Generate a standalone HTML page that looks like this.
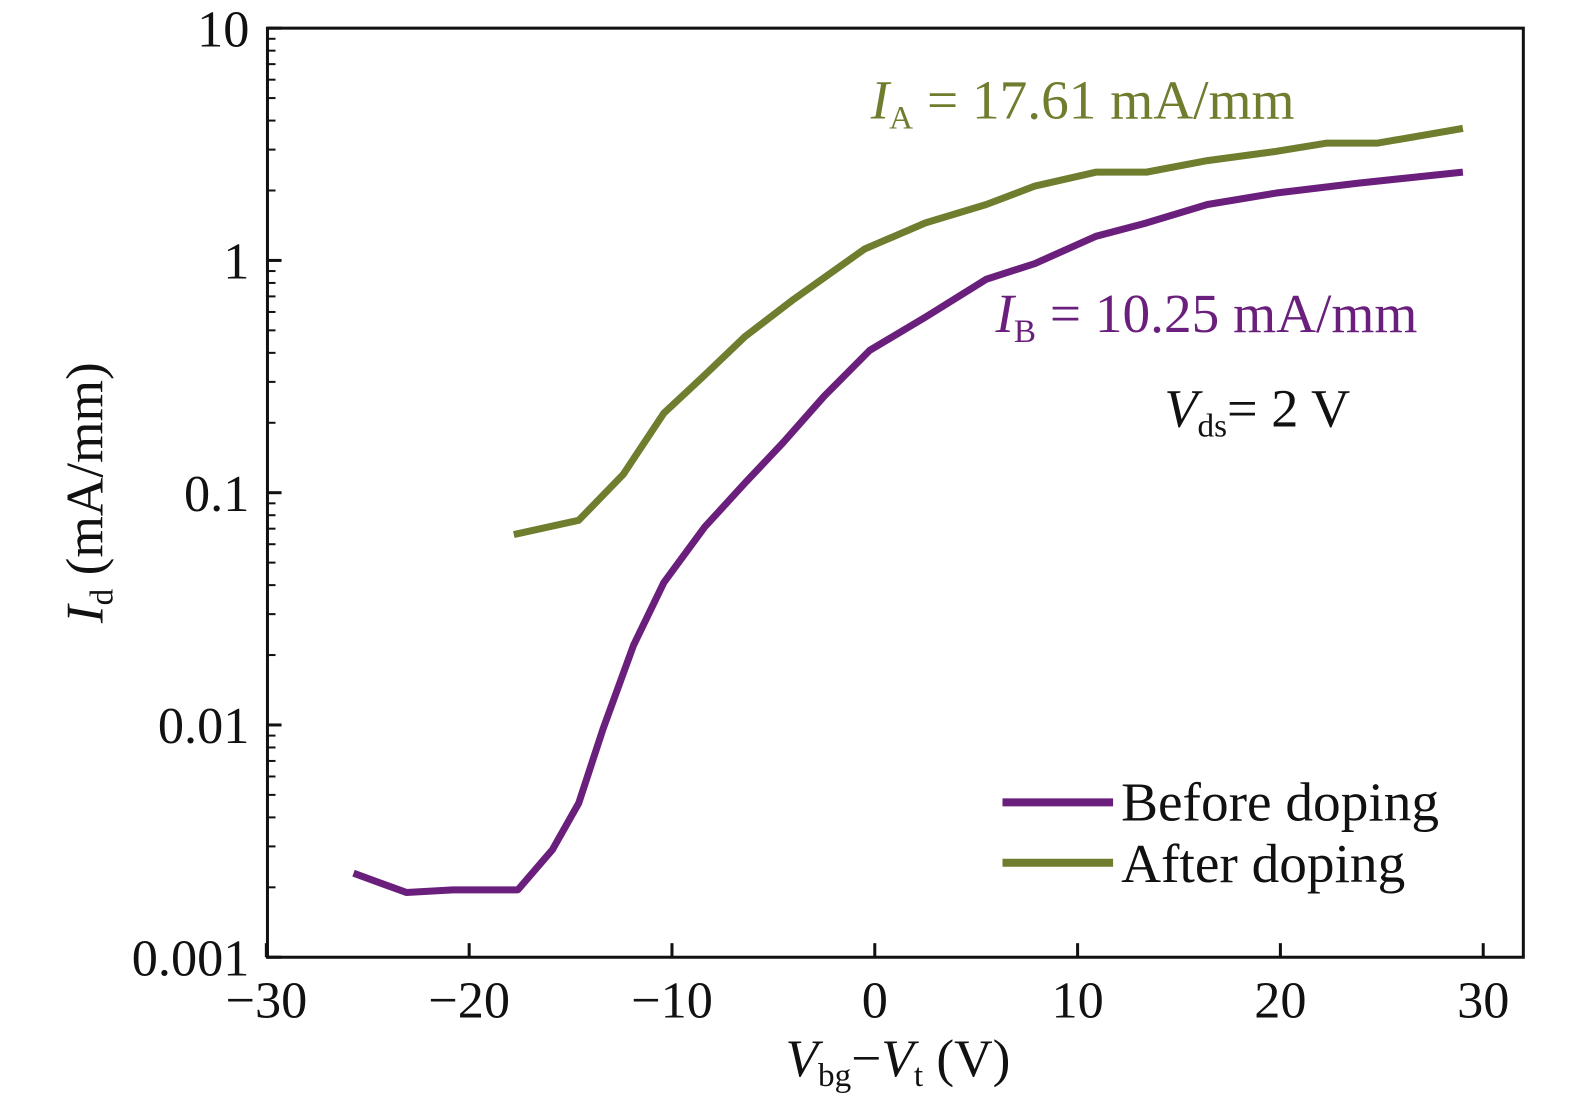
<!DOCTYPE html>
<html><head><meta charset="utf-8"><style>
html,body{margin:0;background:#fff;overflow:hidden;width:1575px;height:1102px}
svg{display:block}
#wrap{position:absolute;left:0;top:0;width:1575px;height:1102px;transform:scale(1.0055);transform-origin:0 0}
text{font-family:"Liberation Serif",serif}
</style></head><body>
<div id="wrap">
<svg id="chart" width="1575" height="1102" xmlns="http://www.w3.org/2000/svg" style="position:absolute;left:0;top:0">
<g id="g"></g>
</svg>
<script>
const xTicks=[-30,-20,-10,0,10,20,30];
const yTicks=[0.001,0.01,0.1,1,10];
const yTickLabels=["0.001","0.01","0.1","1","10"];
const beforeX=[-25.7,-23.1,-20.8,-17.6,-15.9,-14.6,-13.4,-11.9,-10.4,-8.4,-6.4,-4.5,-2.5,-0.25,2.5,5.5,7.9,10.9,13.4,16.4,19.8,23.8,29];
const beforeY=[0.0023,0.0019,0.00195,0.00195,0.0029,0.0046,0.0096,0.022,0.041,0.071,0.11,0.165,0.26,0.41,0.57,0.83,0.97,1.27,1.45,1.74,1.95,2.15,2.4];
const afterX=[-17.8,-14.6,-12.4,-10.4,-8.4,-6.4,-4.0,-0.5,2.5,5.5,7.9,10.9,13.4,16.4,19.8,22.3,24.8,29];
const afterY=[0.066,0.076,0.12,0.22,0.32,0.47,0.68,1.12,1.45,1.74,2.09,2.4,2.4,2.69,2.95,3.2,3.2,3.7];
const L=266,R=1515,T=28,B=952;
const sx=v=>870+(v)*20.17;
const sy=v=>28+(1-Math.log10(v))*231;
const g=document.getElementById('g');
const NS="http://www.w3.org/2000/svg";
function mk(t,a,txt){const e=document.createElementNS(NS,t);for(const k in a)e.setAttribute(k,a[k]);if(txt!==undefined)e.textContent=txt;g.appendChild(e);return e;}
let e=mk('rect',{x:L,y:T,width:R-L,height:B-T,fill:'none',stroke:'#111','stroke-width':3});

xTicks.forEach(v=>{
 let t=mk('line',{x1:sx(v),x2:sx(v),y1:B,y2:B-14,stroke:'#111','stroke-width':3});
 
 let l=mk('text',{x:sx(v),y:1012,'font-size':52,'text-anchor':'middle',fill:'#111'},(v<0?'\u2212':'')+Math.abs(v));
 
});
yTicks.forEach((v,i)=>{
 let t=mk('line',{x1:L,x2:L+14,y1:sy(v),y2:sy(v),stroke:'#111','stroke-width':3});
 
 let l=mk('text',{x:248,y:sy(v)+18,'font-size':52,'text-anchor':'end',fill:'#111'},yTickLabels[i]);
 
 if(i<yTicks.length-1)for(let m=2;m<10;m++){
  let mt=mk('line',{x1:L,x2:L+8,y1:sy(v*m),y2:sy(v*m),stroke:'#111','stroke-width':2});
  
 }
});
function series(xs,ys,col,name){
 const p=xs.map((x,i)=>sx(x).toFixed(1)+','+sy(ys[i]).toFixed(1)).join(' ');
 let s=mk('polyline',{points:p,fill:'none',stroke:col,'stroke-width':7,'stroke-linejoin':'round'});
 
}
series(beforeX,beforeY,'#6b1f7c','before-doping-line');
series(afterX,afterY,'#6e7d2e','after-doping-line');
</script>
<svg style="position:absolute;left:0;top:0" width="1575" height="1102" xmlns="http://www.w3.org/2000/svg">
<g fill="#6e7d2e" font-size="55"><text x="866" y="118" style="font-family:'Liberation Serif',serif"><tspan font-style="italic">I</tspan><tspan font-size="33" dy="10">A</tspan><tspan dy="-10"> = 17.61 mA/mm</tspan></text></g>
<g fill="#6b1f7c" font-size="55"><text x="990" y="330" style="font-family:'Liberation Serif',serif"><tspan font-style="italic">I</tspan><tspan font-size="33" dy="10">B</tspan><tspan dy="-10"> = 10.25 mA/mm</tspan></text></g>
<g fill="#111" font-size="54"><text x="1158" y="424" style="font-family:'Liberation Serif',serif"><tspan font-style="italic">V</tspan><tspan font-size="33" dy="10">ds</tspan><tspan dy="-10">= 2 V</tspan></text></g>
<g>
<line x1="997" x2="1107" y1="798" y2="798" stroke="#6b1f7c" stroke-width="8"/>
<text x="1115" y="816" font-size="55" fill="#111" style="font-family:'Liberation Serif',serif">Before doping</text>
<line x1="997" x2="1107" y1="858" y2="858" stroke="#6e7d2e" stroke-width="8"/>
<text x="1115" y="877" font-size="55" fill="#111" style="font-family:'Liberation Serif',serif">After doping</text>
</g>
<text x="893" y="1070" font-size="53" text-anchor="middle" fill="#111" style="font-family:'Liberation Serif',serif"><tspan font-style="italic">V</tspan><tspan font-size="33" dy="10">bg</tspan><tspan dy="-10">−</tspan><tspan font-style="italic">V</tspan><tspan font-size="33" dy="10">t</tspan><tspan dy="-10"> (V)</tspan></text>
<text transform="translate(102,490) rotate(-90)" font-size="53" text-anchor="middle" fill="#111" style="font-family:'Liberation Serif',serif"><tspan font-style="italic">I</tspan><tspan font-size="33" dy="10">d</tspan><tspan dy="-10"> (mA/mm)</tspan></text>
</svg>
</div>
</body></html>
